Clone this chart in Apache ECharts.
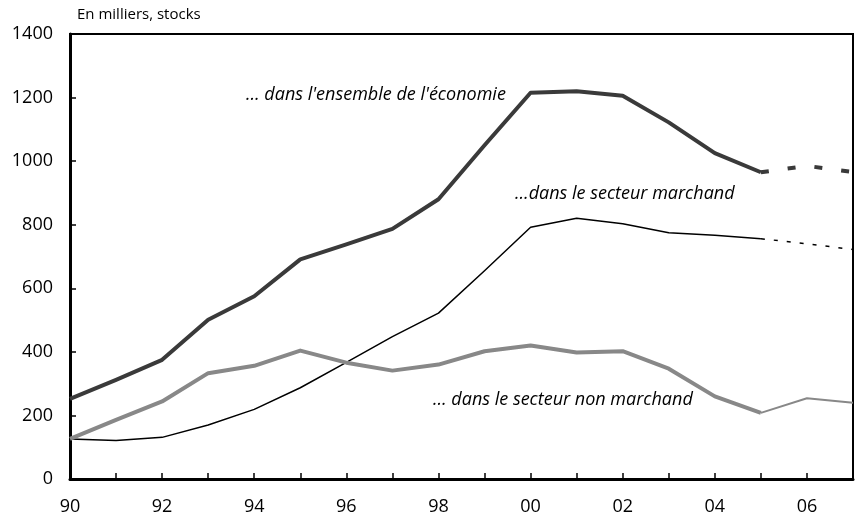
<!DOCTYPE html>
<html>
<head>
<meta charset="utf-8">
<script src="https://cdn.jsdelivr.net/npm/echarts@6/dist/echarts.min.js"></script>
<style>
  html, body { margin: 0; padding: 0; background: #fff; }
  #chart { width: 856px; height: 517px; }
</style>
</head>
<body>
<div id="chart"></div>
<script>
// années 1990 -> 2007, prévision à partir de 2005
var years = [1990, 1991, 1992, 1993, 1994, 1995, 1996, 1997, 1998, 1999,
             2000, 2001, 2002, 2003, 2004, 2005, 2006, 2007];
var ensemble = [252, 312, 375, 501, 575, 691, 738, 787, 880, 1050,
                1215, 1220, 1206, 1122, 1025, 965, 985, 966];
var marchand = [126, 121, 131, 170, 219, 287, 367, 448, 522, 655,
                792, 820, 803, 775, 767, 756, 740, 722];
var nonMarchand = [126, 186, 244, 333, 356, 404, 366, 341, 360, 402,
                   420, 398, 402, 347, 260, 208, 254, 240];
var lastObserved = 2005;
var yTicks = [0, 200, 400, 600, 800, 1000, 1200, 1400];

var font = '"Open Sans", "Noto Sans", sans-serif';

// découpe une série en partie observée / partie prévue
function pairs(vals, fromYear, toYear) {
    var out = [];
    years.forEach(function (y, i) {
        if (y >= fromYear && y <= toYear) out.push([y, vals[i]]);
    });
    return out;
}

function line(name, vals, from, to, color, width, type) {
    return {
        name: name,
        type: 'line',
        symbol: 'none',
        silent: true,
        z: 3,
        data: pairs(vals, from, to),
        lineStyle: { color: color, width: width, type: type, cap: 'butt', join: 'round' }
    };
}

var myChart = echarts.init(document.getElementById('chart'));
myChart.setOption({
    animation: false,
    grid: {
        left: 70,
        right: -7,
        top: 34,
        bottom: 38,
        show: true,
        borderColor: '#000',
        borderWidth: 2,
        backgroundColor: 'transparent'
    },
    xAxis: {
        type: 'value',
        min: years[0],
        max: years[years.length - 1],
        interval: 1,
        axisLine: { lineStyle: { color: '#000', width: 3 } },
        axisTick: { inside: true, length: 6, lineStyle: { color: '#000', width: 1.5 } },
        splitLine: { show: false },
        axisLabel: {
            margin: 19,
            color: '#000',
            fontSize: 18,
            fontFamily: font,
            formatter: function (v) {
                return v % 2 === 0 ? String(v).slice(2) : '';
            }
        }
    },
    yAxis: {
        type: 'value',
        min: yTicks[0],
        max: yTicks[yTicks.length - 1],
        interval: 200,
        axisLine: { show: true, lineStyle: { color: '#000', width: 3 } },
        axisTick: { show: true, inside: true, length: 6, lineStyle: { color: '#000', width: 1.5 } },
        splitLine: { show: false },
        axisLabel: {
            margin: 17,
            color: '#000',
            fontSize: 18,
            fontFamily: font,
            formatter: function (v) { return String(v); }
        }
    },
    graphic: [
        { type: 'text', left: 77, top: 7,
          style: { text: 'En milliers, stocks', font: '15px ' + font, fill: '#000' } },
        { type: 'text', left: 246, top: 86,
          style: { text: '\u2026 dans l\'ensemble de l\'\u00e9conomie', font: 'italic 18px ' + font, fill: '#000' } },
        { type: 'text', left: 515, top: 185,
          style: { text: '\u2026dans le secteur marchand', font: 'italic 18px ' + font, fill: '#000' } },
        { type: 'text', left: 433, top: 391,
          style: { text: '\u2026 dans le secteur non marchand', font: 'italic 18px ' + font, fill: '#000' } }
    ],
    series: [
        line('ensemble', ensemble, years[0], lastObserved, '#3a3a3a', 4, 'solid'),
        line('ensemble prévision', ensemble, lastObserved, 2007, '#3a3a3a', 4, [8, 19]),
        line('marchand', marchand, years[0], lastObserved, '#000', 1.5, 'solid'),
        line('marchand prévision', marchand, lastObserved, 2007, '#000', 1.5, [4, 9]),
        line('non marchand', nonMarchand, years[0], lastObserved, '#888', 4, 'solid'),
        line('non marchand prévision', nonMarchand, lastObserved, 2007, '#888', 2, 'solid')
    ]
});
</script>
</body>
</html>
